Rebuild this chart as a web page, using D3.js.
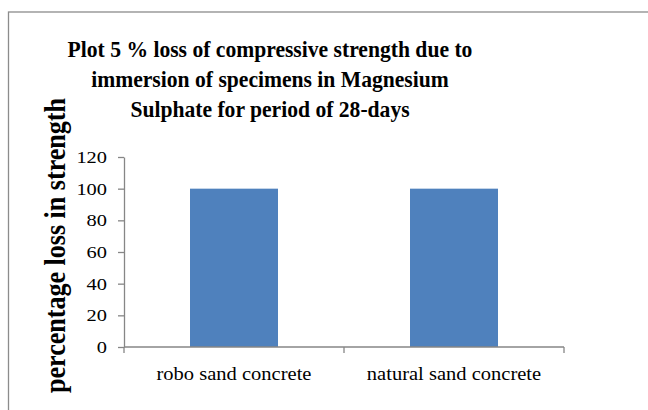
<!DOCTYPE html>
<html>
<head>
<meta charset="utf-8">
<script src="https://cdn.jsdelivr.net/npm/d3@7"></script>
<style>
  body { margin: 0; background: #fff; }
  text { font-family: "Liberation Serif", "Times New Roman", serif; fill: #000; }
</style>
</head>
<body>
<div id="chart"></div>
<script>
// data
const categories = ["robo sand concrete", "natural sand concrete"];
const lossValues = [100, 100];
const yTicks = [0, 20, 40, 60, 80, 100, 120];
const titleLines = [
    "Plot 5 % loss of compressive strength due to",
    "immersion of specimens in Magnesium",
    "Sulphate for period of 28-days"
];
const yLabel = "percentage loss in strength";

const width = 648, height = 410;
const plot = { left: 124, right: 564, top: 157, bottom: 347 };

// the reference text looks a bit wider than plain Times, so stretch it
function stretch(sel, sx) {
    sel.each(function () {
        const w = this.getComputedTextLength();
        d3.select(this)
            .attr("textLength", w * sx)
            .attr("lengthAdjust", "spacingAndGlyphs");
    });
}

const svg = d3.select("#chart").append("svg")
    .attr("width", width)
    .attr("height", height);

// outer frame (runs off the right and bottom edges)
svg.append("rect")
    .attr("x", 8.5).attr("y", 12)
    .attr("width", 660).attr("height", 420)
    .attr("fill", "none")
    .attr("stroke", "#8c8c8c")
    .attr("stroke-width", 1.3);

const x = d3.scaleBand()
    .domain(categories)
    .range([plot.left, plot.right]);

const y = d3.scaleLinear()
    .domain([0, 120])
    .range([plot.bottom, plot.top]);

// bars, gap width ~150%
const barW = x.bandwidth() * 0.4;
svg.selectAll("rect.bar")
    .data(lossValues)
    .join("rect")
    .attr("class", "bar")
    .attr("x", (d, i) => x(categories[i]) + (x.bandwidth() - barW) / 2)
    .attr("y", d => y(d))
    .attr("width", barW)
    .attr("height", d => y(0) - y(d))
    .attr("fill", "#4f81bd");

// y axis
const yAxis = svg.append("g")
    .attr("transform", `translate(${plot.left},0)`)
    .call(d3.axisLeft(y).tickValues(yTicks).tickSize(6).tickSizeOuter(0).tickPadding(11));
yAxis.select(".domain").attr("stroke", "#868686").attr("stroke-width", 1.3);
yAxis.selectAll(".tick line").attr("stroke", "#868686").attr("stroke-width", 1.3);
yAxis.selectAll(".tick text")
    .style("font-size", "17px")
    .attr("fill", "#000")
    .call(stretch, 1.2);

// x axis with ticks at category boundaries
const xAxis = svg.append("g")
    .attr("transform", `translate(0,${plot.bottom})`);
xAxis.append("line")
    .attr("x1", plot.left).attr("x2", plot.right)
    .attr("stroke", "#868686").attr("stroke-width", 1.3);
const bounds = [plot.left, ...categories.map(c => x(c) + x.bandwidth())];
xAxis.selectAll("line.tk")
    .data(bounds)
    .join("line")
    .attr("class", "tk")
    .attr("x1", d => d).attr("x2", d => d)
    .attr("y1", 0).attr("y2", 6)
    .attr("stroke", "#868686").attr("stroke-width", 1.3);
xAxis.selectAll("text")
    .data(categories)
    .join("text")
    .attr("x", d => x(d) + x.bandwidth() / 2)
    .attr("y", 33)
    .attr("text-anchor", "middle")
    .style("font-size", "18px")
    .text(d => d)
    .call(stretch, 1.14);

// title
svg.append("g")
    .selectAll("text")
    .data(titleLines)
    .join("text")
    .attr("x", 270)
    .attr("y", (d, i) => 57 + i * 29.8)
    .attr("text-anchor", "middle")
    .style("font-size", "24px")
    .style("font-weight", "bold")
    .text(d => d)
    .call(stretch, 0.9);

// y axis label (glyphs a little taller across than plain Times)
svg.append("text")
    .attr("transform", "translate(65,245.5) scale(1.1,1) rotate(-90)")
    .attr("text-anchor", "middle")
    .style("font-size", "26px")
    .style("font-weight", "bold")
    .text(yLabel)
    .attr("textLength", 295)
    .attr("lengthAdjust", "spacingAndGlyphs");
</script>
</body>
</html>
